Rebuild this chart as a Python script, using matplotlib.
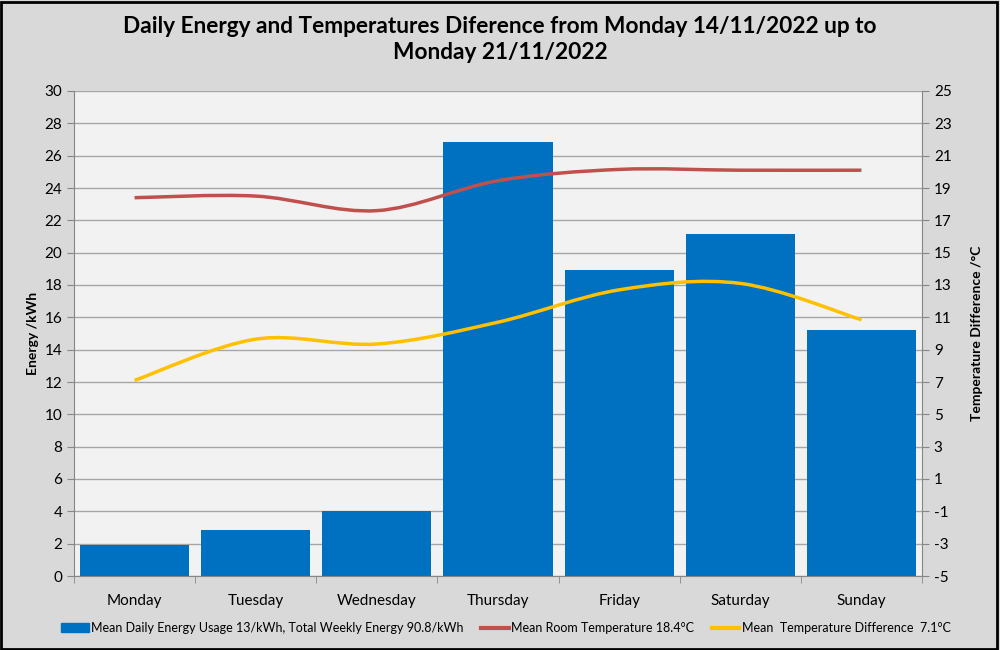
import matplotlib.pyplot as plt
from matplotlib.path import Path
from matplotlib.patches import PathPatch, Rectangle
from matplotlib.lines import Line2D

plt.rcParams['font.family'] = ['Lato', 'DejaVu Sans']
plt.rcParams['axes.unicode_minus'] = False

days = ['Monday', 'Tuesday', 'Wednesday', 'Thursday', 'Friday', 'Saturday', 'Sunday']
energy = [1.9, 2.85, 4.0, 26.85, 18.9, 21.15, 15.2]
room_temp = [18.4, 18.5, 17.6, 19.45, 20.15, 20.1, 20.1]
temp_diff = [7.1, 9.65, 9.35, 10.7, 12.7, 13.1, 10.85]

title = 'Daily Energy and Temperatures Diference from Monday 14/11/2022 up to\nMonday 21/11/2022'
energy_label = 'Mean Daily Energy Usage 13/kWh, Total Weekly Energy 90.8/kWh'
room_label = 'Mean Room Temperature 18.4°C'
diff_label = 'Mean  Temperature Difference  7.1°C'


def smooth_path(xs, ys):
    # Excel style smoothed line: cubic bezier through each point
    n = len(xs)
    verts = [(xs[0], ys[0])]
    codes = [Path.MOVETO]
    for i in range(n - 1):
        x0, y0 = xs[max(i - 1, 0)], ys[max(i - 1, 0)]
        x1, y1 = xs[i], ys[i]
        x2, y2 = xs[i + 1], ys[i + 1]
        x3, y3 = xs[min(i + 2, n - 1)], ys[min(i + 2, n - 1)]
        c1 = (x1 + (x2 - x0) / 6, y1 + (y2 - y0) / 6)
        c2 = (x2 - (x3 - x1) / 6, y2 - (y3 - y1) / 6)
        verts += [c1, c2, (x2, y2)]
        codes += [Path.CURVE4] * 3
    return Path(verts, codes)


fig = plt.figure(figsize=(10, 6.5), dpi=100, facecolor='#d9d9d9')
fig.patches.append(Rectangle((0.001, 0.002), 0.996, 0.995, transform=fig.transFigure,
                             fill=False, edgecolor='black', linewidth=2))

ax = fig.add_axes([0.074, 74 / 650, 0.848, 485 / 650])
ax.set_facecolor('#f2f2f2')
xs = list(range(len(days)))
ax.bar(xs, energy, width=0.9, color='#0070c0', zorder=2)
ax.set_xlim(-0.5, 6.5)
ax.set_ylim(0, 30)
ax.set_yticks(range(0, 31, 2))
ax.set_xticks(xs)
ax.set_xticklabels(days)
ax.set_xticks([x + 0.5 for x in range(-1, 7)], minor=True)
ax.tick_params(axis='x', which='major', length=0, labelsize=11, pad=13)
ax.tick_params(axis='x', which='minor', length=5, color='#868686')
ax.tick_params(axis='y', labelsize=11, length=5, color='#868686')
ax.grid(axis='y', color='#a6a6a6', linewidth=1, zorder=0)
ax.set_axisbelow(True)
for s in ['top', 'right']:
    ax.spines[s].set_visible(False)
for s in ['left', 'bottom']:
    ax.spines[s].set_color('#868686')
ax.set_ylabel('Energy /kWh', fontsize=10, fontweight='bold', labelpad=4)

ax2 = ax.twinx()
ax2.set_ylim(-5, 25)
ax2.set_yticks(range(-5, 26, 2))
ax2.tick_params(axis='y', labelsize=11, length=5, color='#868686')
for s in ['top', 'left', 'bottom']:
    ax2.spines[s].set_visible(False)
ax2.spines['right'].set_color('#868686')
ax2.set_ylabel('Temperature Difference /°C', fontsize=10, fontweight='bold', labelpad=14)

ax2.add_patch(PathPatch(smooth_path(xs, room_temp), fill=False, edgecolor='#c0504d',
                        linewidth=2.5, zorder=3))
ax2.add_patch(PathPatch(smooth_path(xs, temp_diff), fill=False, edgecolor='#ffc000',
                        linewidth=2.5, zorder=3))

fig.suptitle(title, fontsize=16.3, fontweight='bold', y=0.975, linespacing=1.3)

handles = [Rectangle((0, 0), 1, 1, color='#0070c0'),
           Line2D([], [], color='#c0504d', linewidth=3),
           Line2D([], [], color='#ffc000', linewidth=3)]
fig.legend(handles, [energy_label, room_label, diff_label], loc='center',
           bbox_to_anchor=(0.506, 1 - 628 / 650), ncol=3, frameon=False, fontsize=9,
           handlelength=2.2, handletextpad=0.2, columnspacing=1.4)

fig.savefig('out.png', dpi=100, facecolor=fig.get_facecolor())
